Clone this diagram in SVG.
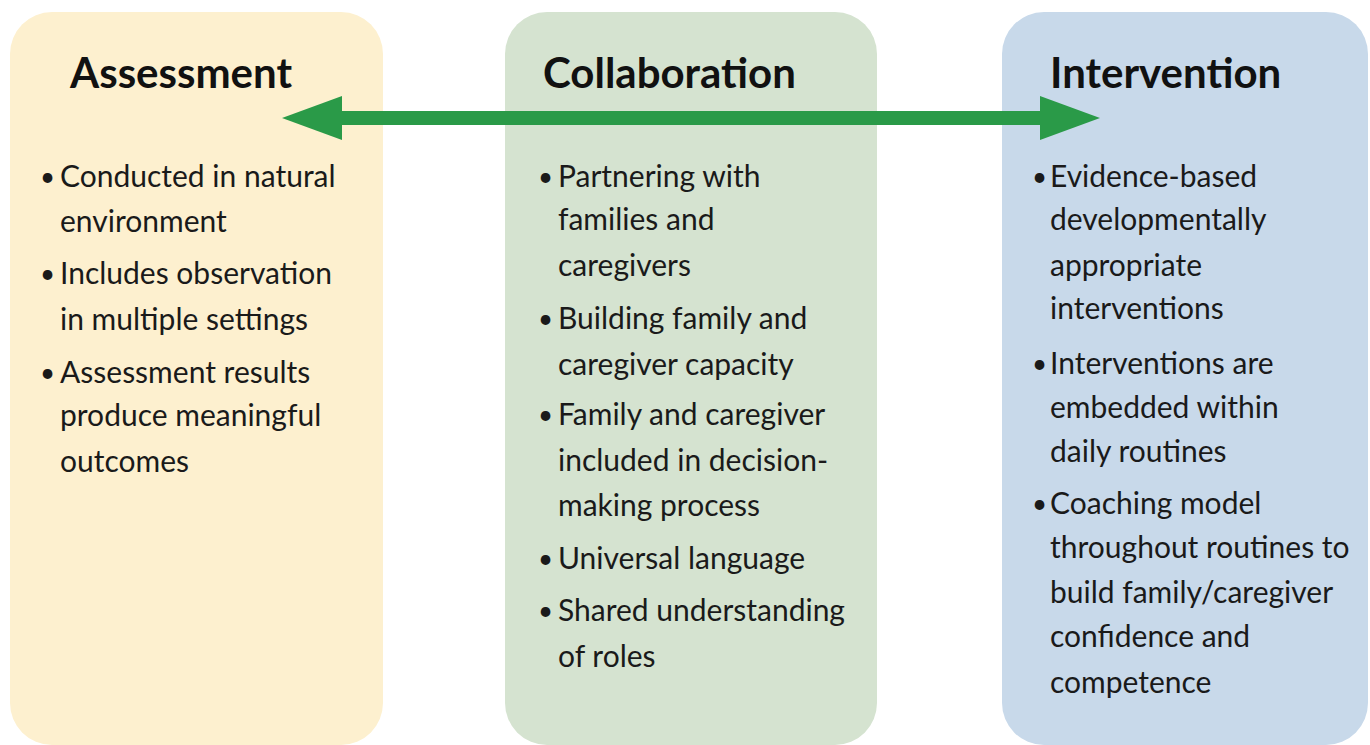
<svg xmlns="http://www.w3.org/2000/svg" width="1370" height="745" viewBox="0 0 1370 745">
  <style>
    .title { font-family: Lato, "Liberation Sans", sans-serif; font-weight: bold; font-size: 42px; fill: #111; }
    .item { font-family: Lato, "Liberation Sans", sans-serif; font-size: 30px; fill: #1a1a1a; }
    .dot { font-size: 26px; }
  </style>
  <defs>
    <marker id="head" viewBox="0 0 60 44" refX="0" refY="22" markerWidth="60" markerHeight="44" markerUnits="userSpaceOnUse" orient="auto-start-reverse">
      <path d="M0,0 L60,22 L0,44 Z" fill="#2a9a48"/>
    </marker>
  </defs>
  <rect width="1370" height="745" fill="#ffffff"/>

  <g id="assessment">
    <rect x="10" y="12" width="373" height="733" rx="42" fill="#fdf0cf"/>
    <text class="title" x="70" y="88">Assessment</text>
    <text class="item">
      <tspan class="dot" x="40" y="186">•</tspan><tspan x="60" y="187">Conducted in natural</tspan>
      <tspan x="60" y="232">environment</tspan>
      <tspan class="dot" x="40" y="283">•</tspan><tspan x="60" y="284">Includes observation</tspan>
      <tspan x="60" y="330">in multiple settings</tspan>
      <tspan class="dot" x="40" y="382">•</tspan><tspan x="60" y="383">Assessment results</tspan>
      <tspan x="60" y="426">produce meaningful</tspan>
      <tspan x="60" y="472">outcomes</tspan>
    </text>
  </g>

  <g id="collaboration">
    <rect x="505" y="12" width="372" height="733" rx="42" fill="#d5e3d0"/>
    <text class="title" x="543" y="88">Collaboration</text>
    <text class="item">
      <tspan class="dot" x="538" y="186">•</tspan><tspan x="558" y="187">Partnering with</tspan>
      <tspan x="558" y="230">families and</tspan>
      <tspan x="558" y="276">caregivers</tspan>
      <tspan class="dot" x="538" y="328">•</tspan><tspan x="558" y="329">Building family and</tspan>
      <tspan x="558" y="375">caregiver capacity</tspan>
      <tspan class="dot" x="538" y="424">•</tspan><tspan x="558" y="425">Family and caregiver</tspan>
      <tspan x="558" y="471">included in decision-</tspan>
      <tspan x="558" y="516">making process</tspan>
      <tspan class="dot" x="538" y="568">•</tspan><tspan x="558" y="569">Universal language</tspan>
      <tspan class="dot" x="538" y="620">•</tspan><tspan x="558" y="621">Shared understanding</tspan>
      <tspan x="558" y="667">of roles</tspan>
    </text>
  </g>

  <g id="intervention">
    <rect x="1002" y="12" width="366" height="733" rx="42" fill="#c8d9ea"/>
    <text class="title" x="1050" y="88">Intervention</text>
    <text class="item">
      <tspan class="dot" x="1032" y="186">•</tspan><tspan x="1050" y="187">Evidence-based</tspan>
      <tspan x="1050" y="230">developmentally</tspan>
      <tspan x="1050" y="276">appropriate</tspan>
      <tspan x="1050" y="319">interventions</tspan>
      <tspan class="dot" x="1032" y="373">•</tspan><tspan x="1050" y="374">Interventions are</tspan>
      <tspan x="1050" y="418">embedded within</tspan>
      <tspan x="1050" y="462">daily routines</tspan>
      <tspan class="dot" x="1032" y="513">•</tspan><tspan x="1050" y="514">Coaching model</tspan>
      <tspan x="1050" y="558">throughout routines to</tspan>
      <tspan x="1050" y="603">build family/caregiver</tspan>
      <tspan x="1050" y="647">confidence and</tspan>
      <tspan x="1050" y="693">competence</tspan>
    </text>
  </g>

  <g id="connectors">
    <line x1="342" y1="118" x2="1040" y2="118" stroke="#2a9a48" stroke-width="14" marker-start="url(#head)" marker-end="url(#head)"/>
  </g>
</svg>
